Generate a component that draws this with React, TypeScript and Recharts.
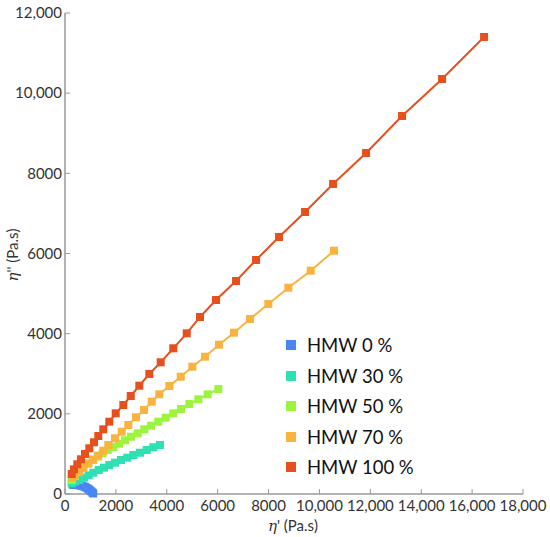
import React from "react";
import {
  ScatterChart,
  Scatter,
  XAxis,
  YAxis,
  ZAxis,
} from "recharts";

// η' (x) and η'' (y) in Pa.s
const hmw0X = [300, 360, 420, 480, 540, 600, 660, 720, 780, 840, 890, 940, 990, 1040, 1080, 1110];
const hmw0Y = [232, 231, 229, 226, 220, 213, 204, 192, 177, 158, 138, 115, 90, 62, 35, 12];

const hmw30X = [263, 393, 562, 747, 932, 1112, 1325, 1533, 1741, 1965, 2201, 2449, 2685, 2948, 3211, 3471, 3734];
const hmw30Y = [267, 307, 349, 407, 467, 531, 599, 656, 724, 781, 848, 906, 973, 1030, 1098, 1165, 1223];

const hmw50X = [263, 393, 562, 719, 916, 1089, 1285, 1482, 1678, 1899, 2123, 2358, 2594, 2858, 3117, 3381, 3667, 3958, 4257, 4560, 4886, 5240, 5609, 6026];
const hmw50Y = [349, 449, 556, 666, 766, 848, 931, 1015, 1098, 1173, 1255, 1340, 1430, 1514, 1614, 1704, 1804, 1904, 2013, 2121, 2245, 2363, 2487, 2620];

const hmw70X = [300, 393, 562, 719, 916, 1112, 1309, 1506, 1702, 1965, 2229, 2488, 2791, 3105, 3408, 3707, 4100, 4548, 5004, 5503, 6053, 6643, 7272, 7991, 8777, 9658, 10574];
const hmw70Y = [420, 490, 570, 660, 760, 860, 960, 1080, 1223, 1390, 1554, 1722, 1914, 2096, 2303, 2488, 2695, 2927, 3176, 3426, 3725, 4025, 4366, 4741, 5147, 5571, 6070];

const hmw100X = [263, 354, 483, 629, 786, 955, 1140, 1309, 1505, 1741, 1993, 2292, 2583, 2921, 3314, 3762, 4257, 4784, 5307, 5936, 6722, 7508, 8412, 9434, 10535, 11832, 13247, 14819, 16470];
const hmw100Y = [499, 616, 741, 866, 998, 1140, 1290, 1447, 1614, 1804, 2013, 2221, 2445, 2702, 2994, 3286, 3635, 4009, 4416, 4840, 5314, 5838, 6412, 7036, 7735, 8508, 9431, 10354, 11402];

const xTicks = [0, 2000, 4000, 6000, 8000, 10000, 12000, 14000, 16000, 18000];
const yTicks = [0, 2000, 4000, 6000, 8000, 10000, 12000];

const seriesNames = ["HMW 0 %", "HMW 30 %", "HMW 50 %", "HMW 70 %", "HMW 100 %"];
const seriesColors = ["#4A86F0", "#2EE0B2", "#9CF43C", "#F9B33E", "#E6501C"];
const seriesX = [hmw0X, hmw30X, hmw50X, hmw70X, hmw100X];
const seriesY = [hmw0Y, hmw30Y, hmw50Y, hmw70Y, hmw100Y];

const FONT = "Lato, 'Open Sans', sans-serif";
const axisGrey = "#999999";

function toPoints(xs: number[], ys: number[]) {
  return xs.map((x, i) => ({ x, y: ys[i] }));
}

function formatTick(v: number): string {
  if (v >= 10000) return v.toLocaleString("en-US");
  return String(v);
}

function LegendBox() {
  return (
    <div
      style={{
        position: "absolute",
        left: 286,
        top: 330,
        fontFamily: FONT,
        fontSize: 18.5,
        color: "#111",
      }}
    >
      {seriesNames.map((name, i) => (
        <div
          key={name}
          style={{ display: "flex", alignItems: "center", height: 30.5 }}
        >
          <span
            style={{
              display: "inline-block",
              width: 10,
              height: 10,
              background: seriesColors[i],
              marginRight: 11,
            }}
          />
          <span>{name}</span>
        </div>
      ))}
    </div>
  );
}

function XTitle() {
  return (
    <text x={293} y={531} textAnchor="middle" fontFamily={FONT} fontSize={15} fill="#333">
      <tspan fontStyle="italic" fontFamily="'DejaVu Serif', serif">η</tspan>' (Pa.s)
    </text>
  );
}

function YTitle() {
  return (
    <text
      x={0}
      y={0}
      transform="translate(18, 255) rotate(-90)"
      textAnchor="middle"
      fontFamily={FONT}
      fontSize={15}
      fill="#333"
    >
      <tspan fontStyle="italic" fontFamily="'DejaVu Serif', serif">η</tspan>'' (Pa.s)
    </text>
  );
}

export default function App() {
  const tickStyle = { fill: "#333", fontSize: 15, fontFamily: FONT };
  return (
    <div style={{ position: "absolute", left: 0, top: 0, width: 550, height: 537, background: "#fff" }}>
      <ScatterChart
        width={550}
        height={537}
        margin={{ top: 13, right: 27, bottom: 13, left: 8 }}
      >
        <XAxis
          xAxisId={0}
          type="number"
          dataKey="x"
          domain={[0, 18000]}
          ticks={xTicks}
          tickFormatter={formatTick}
          tick={tickStyle}
          axisLine={{ stroke: axisGrey, strokeWidth: 1.5 }}
          tickLine={{ stroke: axisGrey }}
          tickSize={-5}
          tickMargin={11}
          height={30}
          interval={0}
          label={{ content: XTitle }}
        />
        <XAxis
          xAxisId="top"
          orientation="top"
          type="number"
          domain={[0, 18000]}
          ticks={xTicks}
          tick={false}
          axisLine={{ stroke: axisGrey, strokeWidth: 1.5 }}
          tickLine={{ stroke: axisGrey }}
          tickSize={-5}
          height={0}
          interval={0}
        />
        <YAxis
          yAxisId={0}
          type="number"
          dataKey="y"
          domain={[0, 12000]}
          ticks={yTicks}
          tickFormatter={formatTick}
          tick={tickStyle}
          axisLine={{ stroke: axisGrey, strokeWidth: 1.5 }}
          tickLine={{ stroke: axisGrey }}
          tickSize={-5}
          tickMargin={8}
          width={57}
          interval={0}
          label={{ content: YTitle }}
        />
        <YAxis
          yAxisId="right"
          orientation="right"
          type="number"
          domain={[0, 12000]}
          ticks={yTicks}
          tick={false}
          axisLine={{ stroke: axisGrey, strokeWidth: 1.5 }}
          tickLine={{ stroke: axisGrey }}
          tickSize={-5}
          width={0}
          interval={0}
        />
        <ZAxis range={[46, 46]} />
        {seriesNames.map((name, i) => (
          <Scatter
            key={name}
            name={name}
            data={toPoints(seriesX[i], seriesY[i])}
            fill={seriesColors[i]}
            shape="square"
            line={{ stroke: seriesColors[i], strokeWidth: 2 }}
            isAnimationActive={false}
          />
        ))}
      </ScatterChart>
      <LegendBox />
    </div>
  );
}
